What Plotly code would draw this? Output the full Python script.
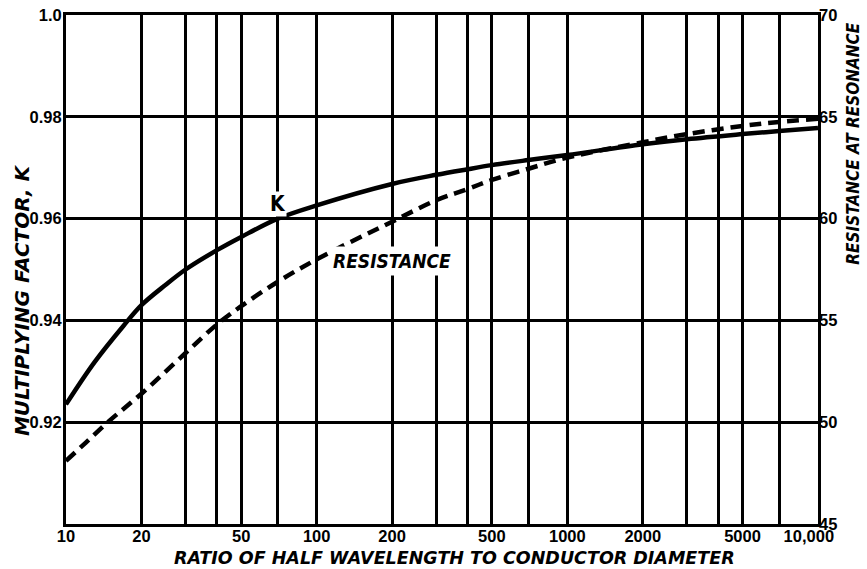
import numpy as np
import plotly.graph_objects as go

# ---- data ----
k_ratio = [10, 13, 17, 20, 25, 30, 40, 50, 70, 100, 200, 300, 400, 500, 700,
           1000, 2000, 3000, 5000, 7000, 10000]
k_factor = [0.9235, 0.9318, 0.9390, 0.9430, 0.9470, 0.9500, 0.9538, 0.9564, 0.9600,
            0.9626, 0.9668, 0.9686, 0.9697, 0.9705, 0.9715, 0.9725, 0.9746,
            0.9756, 0.9766, 0.9772, 0.9778]
r_ratio = [10, 12, 15, 20, 30, 40, 50, 70, 100, 200, 300, 400, 500, 700,
           1000, 2000, 3000, 5000, 7000, 10000]
resistance = [48.1, 49.0, 50.1, 51.4, 53.4, 54.8, 55.7, 56.9, 58.0, 59.85,
              60.9, 61.45, 61.9, 62.45, 63.0, 63.75, 64.15, 64.55, 64.75, 64.9]

x_tickvals = [10, 20, 50, 100, 200, 500, 1000, 2000, 5000, 10000]
x_ticktext = ["10", "20", "50", "100", "200", "500", "1000", "2000", "5000",
              "10,000\u00a0\u00a0\u00a0\u00a0"]
x_minor_grid = [30, 40, 70, 300, 400, 700, 3000, 4000, 7000]
yl_tickvals = [0.92, 0.94, 0.96, 0.98, 1.0]
yl_ticktext = ["0.92", "0.94", "0.96", "0.98", "1.0"]
yr_tickvals = [45, 50, 55, 60, 65, 70]

COND = "DejaVu Sans Condensed, sans-serif"
TICKFONT = dict(family="Liberation Sans, Arial, sans-serif", size=16.5, color="black",
                weight="bold")
TITLEFONT = "DejaVu Sans, sans-serif"

fig = go.Figure()
fig.add_trace(go.Scatter(x=k_ratio, y=k_factor, mode="lines",
                         line=dict(color="black", width=4.5, shape="spline", smoothing=1.0),
                         yaxis="y", showlegend=False, name="K"))
fig.add_trace(go.Scatter(x=r_ratio, y=resistance, mode="lines",
                         line=dict(color="black", width=4.5, dash="12px,7px", shape="spline",
                                   smoothing=1.0),
                         yaxis="y2", showlegend=False, name="Resistance"))

fig.update_layout(
    width=867, height=569,
    margin=dict(l=66, r=49, t=15, b=45),
    paper_bgcolor="white", plot_bgcolor="white",
    xaxis=dict(type="log", range=[1, 4], tickvals=x_tickvals, ticktext=x_ticktext,
               showgrid=True, gridcolor="black", gridwidth=2.5, automargin=False,
               minor=dict(tickmode="array", tickvals=x_minor_grid, showgrid=True,
                          gridcolor="black", gridwidth=2.5, ticks=""),
               showline=True, linecolor="black", linewidth=3, mirror=True,
               ticks="", tickfont=TICKFONT, zeroline=False, ticklabelstandoff=-5),
    yaxis=dict(range=[0.90, 1.0], tickvals=yl_tickvals, ticktext=yl_ticktext,
               showgrid=True, gridcolor="black", gridwidth=2.5, automargin=False,
               showline=True, linecolor="black", linewidth=3, mirror=True,
               ticks="", tickfont=TICKFONT, zeroline=False, ticklabelstandoff=-2),
    yaxis2=dict(range=[45, 70], tickvals=yr_tickvals, overlaying="y", side="right",
                showgrid=False, ticks="", tickfont=TICKFONT, zeroline=False,
                ticklabelstandoff=0, automargin=False),
)

fig.add_annotation(xref="paper", yref="paper", x=0.517, y=-0.043, yanchor="top",
                   text="RATIO OF HALF WAVELENGTH TO CONDUCTOR DIAMETER", showarrow=False,
                   font=dict(family=TITLEFONT, size=17.5, color="black", weight="bold",
                             style="italic"))
fig.add_annotation(xref="paper", yref="paper", x=-0.0585, y=0.44, xanchor="center",
                   yanchor="middle",
                   text="MULTIPLYING FACTOR, K", textangle=-90, showarrow=False,
                   font=dict(family=TITLEFONT, size=20, color="black", weight="bold", style="italic"))
fig.add_annotation(xref="paper", yref="paper", x=1.0465, y=0.749, xanchor="center",
                   yanchor="middle",
                   text="RESISTANCE AT RESONANCE", textangle=-90, showarrow=False,
                   font=dict(family=COND, size=17, color="black", weight="bold", style="italic"))
fig.add_annotation(x=np.log10(70), y=0.9628, yref="y", text="K", showarrow=False,
                   bgcolor="white", borderpad=0,
                   font=dict(family=COND, size=21, color="black", weight="bold"))
fig.add_annotation(x=np.log10(200), y=0.9516, yref="y", text="RESISTANCE", showarrow=False,
                   bgcolor="white", borderpad=3,
                   font=dict(family=COND, size=19, color="black", weight="bold", style="italic"))

fig.write_html("out.html", config={"displayModeBar": False},
               post_script="document.body.style.margin='0';document.body.style.overflow='hidden';")
